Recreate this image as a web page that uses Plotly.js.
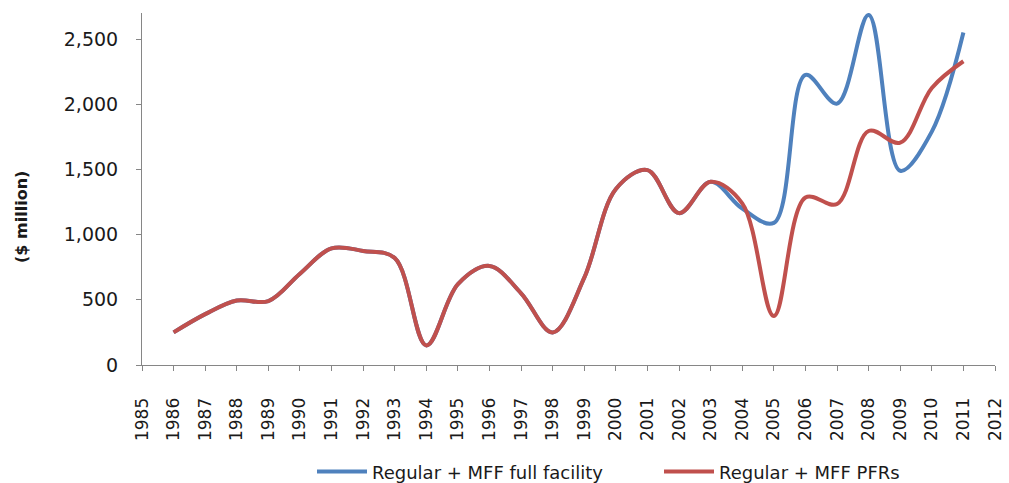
<!DOCTYPE html>
<html>
<head>
<meta charset="utf-8">
<script src="https://cdn.plot.ly/plotly-3.0.1.min.js"></script>
<style>html,body{margin:0;padding:0;background:#fff;}#chart{width:1009px;height:483px;}</style>
</head>
<body>
<div id="chart"></div>
<script>
const years = [1986,1987,1988,1989,1990,1991,1992,1993,1994,1995,1996,1997,1998,1999,2000,2001,2002,2003,2004,2005,2006,2007,2008,2009,2010,2011];
const fullFacility = [250,390,495,490,700,895,875,820,150,620,760,550,250,670,1350,1495,1165,1405,1200,1090,2225,2005,2685,1490,1790,2550];
const pfrs = [250,390,495,490,700,895,875,820,150,620,760,550,250,670,1350,1495,1165,1405,1240,375,1285,1235,1795,1705,2125,2330];
const seriesNames = ["Regular + MFF full facility", "Regular + MFF PFRs"];
const yTickVals = [0,500,1000,1500,2000,2500];
const yTickText = ["0","500","1,000","1,500","2,000","2,500"];
const yTitle = "($ million)";

const font = "DejaVu Sans, sans-serif";
const traces = [
  {x: years, y: fullFacility, name: seriesNames[0], type: "scatter", mode: "lines", legend: "legend",
   line: {color: "#4F81BD", width: 4, shape: "spline", smoothing: 1}},
  {x: years, y: pfrs, name: seriesNames[1], type: "scatter", mode: "lines", legend: "legend2",
   line: {color: "#C0504D", width: 4, shape: "spline", smoothing: 1}}
];
const legendBase = {orientation: "h", xanchor: "left", yref: "container", y: 0.023, yanchor: "middle",
  font: {family: font, size: 18, color: "#1a1a1a"}, itemwidth: 50, bgcolor: "rgba(0,0,0,0)"};
const layout = {
  width: 1009, height: 483,
  margin: {l: 142, r: 14, t: 13, b: 118},
  paper_bgcolor: "#fff", plot_bgcolor: "#fff",
  font: {family: font, color: "#1a1a1a"},
  showlegend: true,
  legend: Object.assign({}, legendBase, {x: 0.1993}),
  legend2: Object.assign({}, legendBase, {x: 0.6061}),
  xaxis: {range: [1985, 2012], dtick: 1, tick0: 1985, tickangle: -90, automargin: false,
          showgrid: false, zeroline: false, showline: true, linecolor: "#868686", linewidth: 1,
          ticks: "outside", ticklen: 5, tickcolor: "#868686",
          ticklabelstandoff: 20,
          tickfont: {family: font, size: 17, color: "#1a1a1a"}, fixedrange: true},
  yaxis: {range: [0, 2700], tickvals: yTickVals, ticktext: yTickText, automargin: false,
          showgrid: false, zeroline: false, showline: true, linecolor: "#868686", linewidth: 1,
          ticks: "outside", ticklen: 5, tickcolor: "#868686",
          ticklabelstandoff: 14,
          tickfont: {family: font, size: 19, color: "#1a1a1a"},
          fixedrange: true},
  annotations: [{text: "<b>" + yTitle + "</b>", xref: "paper", yref: "paper", x: -0.1407, y: 0.4205,
                 xanchor: "center", yanchor: "middle", textangle: -90, showarrow: false,
                 font: {family: font, size: 16, color: "#1a1a1a"}}]
};
Plotly.newPlot("chart", traces, layout, {displayModeBar: false, staticPlot: true});
</script>
</body>
</html>
